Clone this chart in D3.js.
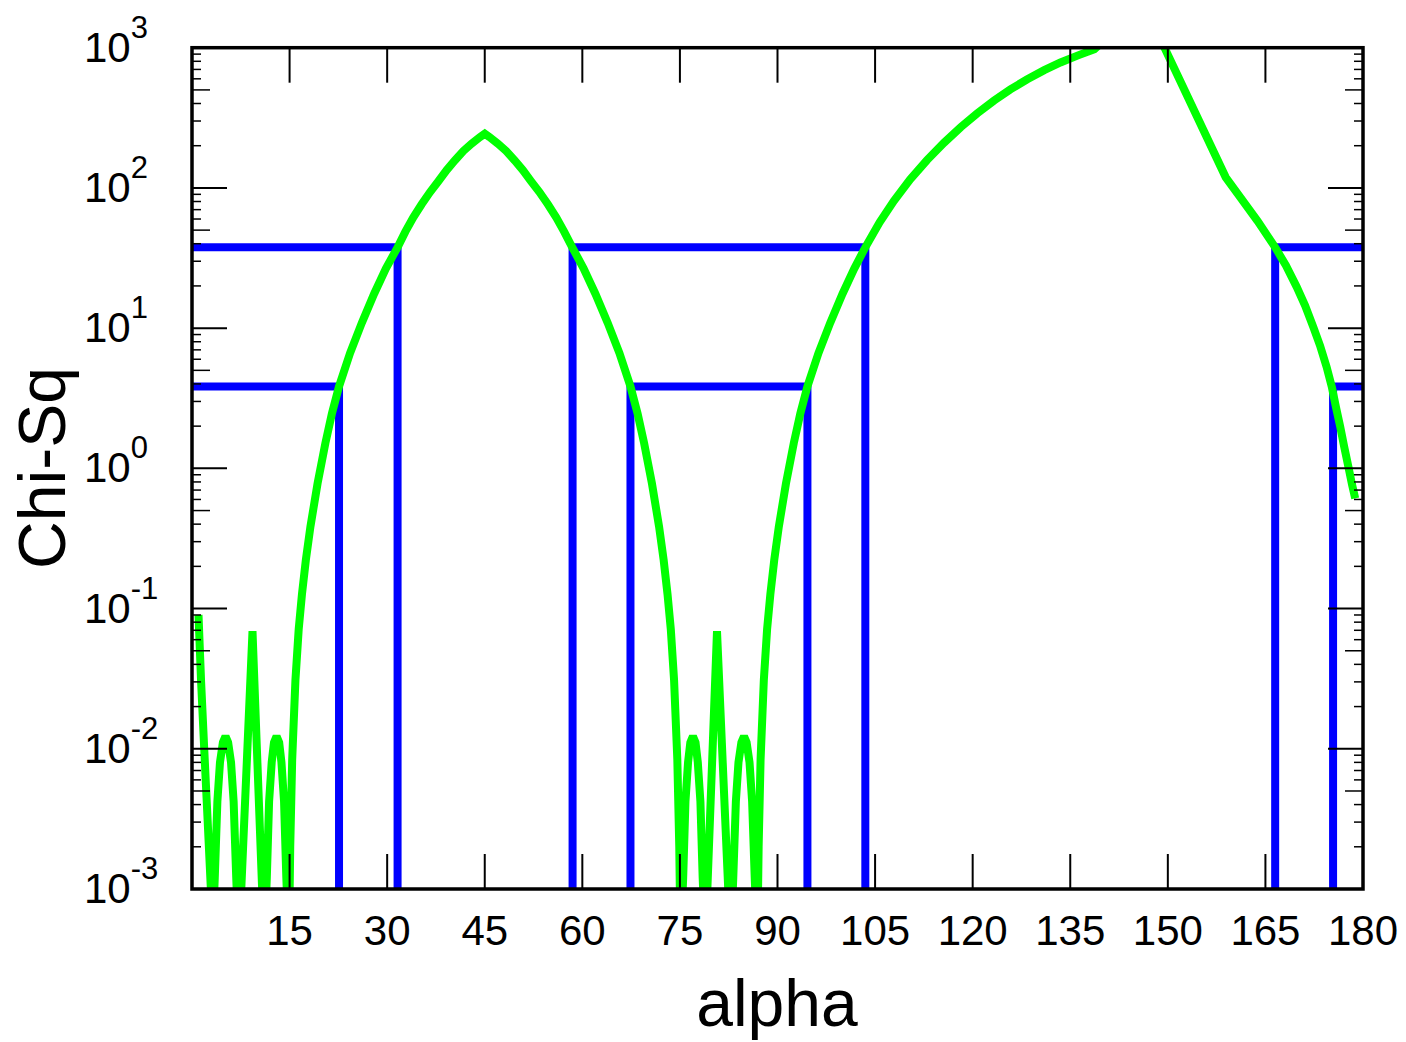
<!DOCTYPE html>
<html>
<head>
<meta charset="utf-8">
<script src="https://cdn.jsdelivr.net/npm/d3@7"></script>
<style>
  body { margin: 0; background: #fff; }
  text { font-family: "Liberation Sans", Arial, sans-serif; fill: #000; }
</style>
</head>
<body>
<div class="chart"></div>
<script>
// chart data
var alphaVals = [
  1.0, 1.4, 1.9, 2.4, 2.9, 3.1, 3.5, 3.9, 4.3, 4.75, 5.15, 5.55, 6.0, 6.4, 6.8, 7.2,
  9.3, 11.1, 11.5, 11.85, 12.25, 12.6, 13.0, 13.4, 13.75, 14.15, 14.5, 14.9,
  15.1, 15.4, 15.9, 16.4, 16.9, 17.5, 18.2, 19.3, 20.5, 21.5, 22.6, 24.3, 26.1, 28.0, 29.8, 31.6,
  32.8, 34.0, 35.3, 36.6, 37.9, 39.15, 40.4, 41.7, 43.0, 44.3, 45.0,
  45.7, 47.0, 48.3, 49.6, 50.85, 52.1, 53.4, 54.7, 56.0, 57.2, 58.45, 60.2, 62.0, 63.9, 65.7, 67.4,
  68.5, 69.5, 70.7, 71.8, 72.5, 73.1, 73.6, 74.1, 74.6, 74.9, 75.1,
  75.5, 75.85, 76.25, 76.6, 77.0, 77.4, 77.75, 78.15, 78.5, 78.9, 80.7,
  82.8, 83.2, 83.6, 84.0, 84.45, 84.85, 85.25, 85.7, 86.1, 86.5, 86.9,
  87.1, 87.4, 87.9, 88.4, 88.9, 89.5, 90.2, 91.3, 92.5, 93.5, 94.6, 96.3, 98.1, 100.0, 101.8,
  103.5, 105.7, 107.9, 110.4, 113.0, 115.6, 118.2, 120.7, 123.3, 125.8, 128.4, 131.0,
  133.5, 136.1, 138.7, 142.0, 146.0,
  158.9, 161.2, 163.8, 166.5, 168.15, 169.8, 171.1, 172.35, 173.4, 174.4, 175.2, 175.85,
  176.5, 177.1, 177.75, 178.3, 178.8
];
var chiSq = [
  0.09, 0.03, 0.0095, 0.0031, 0.001, 0.0004, 0.0012, 0.0042, 0.008, 0.0111, 0.0123, 0.0111, 0.008, 0.0042, 0.0012, 0.0004,
  0.069, 0.0004, 0.0012, 0.0042, 0.008, 0.0111, 0.0123, 0.0111, 0.008, 0.0042, 0.0012, 0.0004,
  0.002, 0.0084, 0.031, 0.071, 0.126, 0.222, 0.383, 0.78, 1.51, 2.45, 3.84, 6.64, 10.9, 17.6, 26.6, 37.7,
  48.8, 61.5, 76.4, 93.5, 112, 134, 157, 183, 207, 231, 244,
  231, 207, 183, 157, 134, 112, 93.5, 76.4, 61.5, 48.8, 37.7, 26.6, 17.6, 10.9, 6.64, 3.84,
  2.45, 1.51, 0.78, 0.383, 0.222, 0.126, 0.071, 0.031, 0.0084, 0.002, 0.0004,
  0.0012, 0.0042, 0.008, 0.0111, 0.0123, 0.0111, 0.008, 0.0042, 0.0012, 0.0004, 0.069,
  0.0004, 0.0012, 0.0042, 0.008, 0.0111, 0.0123, 0.0111, 0.008, 0.0042, 0.0012, 0.0004,
  0.002, 0.0084, 0.031, 0.071, 0.126, 0.222, 0.383, 0.78, 1.51, 2.45, 3.84, 6.64, 10.9, 17.6, 26.6,
  37.7, 56.9, 81, 115, 158, 210, 272, 340, 420, 504, 596, 692,
  785, 878, 975, 1350, 2200,
  119, 85, 58, 37.7, 28, 19.7, 14.5, 10.2, 7.5, 5.3, 3.82, 2.72,
  1.98, 1.43, 1.03, 0.77, 0.61
];

// confidence levels and the alpha ranges under each level
var levels = [37.7, 3.84];
var ranges = [
  [[0, 31.6], [58.5, 103.5], [166.5, 180]],
  [[0, 22.6], [67.4, 94.6], [175.4, 180]]
];

var xTickVals = [15, 30, 45, 60, 75, 90, 105, 120, 135, 150, 165, 180];
var yExponents = [3, 2, 1, 0, -1, -2, -3];

var svgWidth = 1406;
var svgHeight = 1042;
var plot = { left: 192, right: 1363, top: 47.7, bottom: 889 };

var svg = d3.select(".chart")
  .append("svg")
  .attr("width", svgWidth)
  .attr("height", svgHeight);

var x = d3.scaleLinear().domain([0, 180]).range([plot.left, plot.right]);
var y = d3.scaleLog().domain([1e-3, 1e3]).range([plot.bottom, plot.top]);

svg.append("clipPath")
  .attr("id", "clip")
  .append("rect")
  .attr("x", plot.left)
  .attr("y", plot.top)
  .attr("width", plot.right - plot.left)
  .attr("height", plot.bottom - plot.top);

var plotG = svg.append("g").attr("clip-path", "url(#clip)");

// blue level boxes
var floorVal = 1e-5;
levels.forEach(function(level, i) {
  ranges[i].forEach(function(r) {
    var pts = [];
    if (r[0] > 0) pts.push([r[0], floorVal]);
    pts.push([r[0], level]);
    pts.push([r[1], level]);
    if (r[1] < 180) pts.push([r[1], floorVal]);
    plotG.append("path")
      .attr("d", d3.line().x(d => x(d[0])).y(d => y(d[1]))(pts))
      .attr("fill", "none")
      .attr("stroke", "#0000ff")
      .attr("stroke-width", 8)
      .attr("stroke-linejoin", "miter");
  });
});

// green chi-sq curve
var curveData = alphaVals.map((a, i) => [a, chiSq[i]]);
plotG.append("path")
  .datum(curveData)
  .attr("d", d3.line().x(d => x(d[0])).y(d => y(d[1])))
  .attr("fill", "none")
  .attr("stroke", "#00ff00")
  .attr("stroke-width", 8)
  .attr("stroke-linejoin", "miter")
  .attr("stroke-miterlimit", 2);

// ticks
var tickG = svg.append("g").attr("stroke", "#000");
xTickVals.filter(v => v < 180).forEach(function(v) {
  tickG.append("line").attr("x1", x(v)).attr("x2", x(v))
    .attr("y1", plot.bottom).attr("y2", plot.bottom - 35).attr("stroke-width", 2);
  tickG.append("line").attr("x1", x(v)).attr("x2", x(v))
    .attr("y1", plot.top).attr("y2", plot.top + 35).attr("stroke-width", 2);
});

y.ticks().forEach(function(v) {
  var m = Math.round(v / Math.pow(10, Math.floor(Math.log10(v) + 1e-9)));
  var len = m === 1 ? 35 : (m === 5 ? 18 : 9);
  tickG.append("line").attr("x1", plot.left).attr("x2", plot.left + len)
    .attr("y1", y(v)).attr("y2", y(v)).attr("stroke-width", m === 1 ? 2 : 1.5);
  tickG.append("line").attr("x1", plot.right).attr("x2", plot.right - len)
    .attr("y1", y(v)).attr("y2", y(v)).attr("stroke-width", m === 1 ? 2 : 1.5);
});

// frame
svg.append("rect")
  .attr("x", plot.left)
  .attr("y", plot.top)
  .attr("width", plot.right - plot.left)
  .attr("height", plot.bottom - plot.top)
  .attr("fill", "none")
  .attr("stroke", "#000")
  .attr("stroke-width", 3.5);

// x tick labels
svg.selectAll(".xlab")
  .data(xTickVals)
  .enter()
  .append("text")
  .attr("class", "xlab")
  .attr("x", d => x(d))
  .attr("y", 945)
  .attr("text-anchor", "middle")
  .style("font-size", "42px")
  .text(d => d);

// y tick labels 10^k
yExponents.forEach(function(k) {
  var t = svg.append("text")
    .attr("x", 84)
    .attr("y", y(Math.pow(10, k)) + 14)
    .style("font-size", "42px");
  t.append("tspan").text("10");
  t.append("tspan").attr("dy", -24).style("font-size", "31px").text(k);
});

// axis titles
svg.append("text")
  .attr("x", 777)
  .attr("y", 1026)
  .attr("text-anchor", "middle")
  .style("font-size", "66px")
  .text("alpha");

svg.append("text")
  .attr("transform", "translate(65, 468) rotate(-90)")
  .attr("text-anchor", "middle")
  .style("font-size", "66px")
  .text("Chi-Sq");
</script>
</body>
</html>
